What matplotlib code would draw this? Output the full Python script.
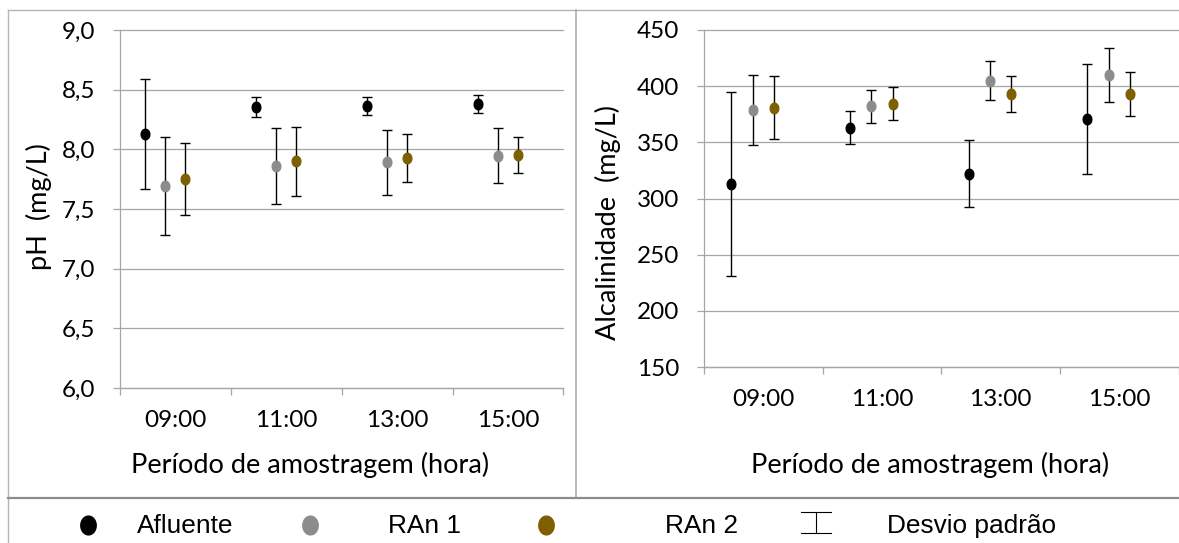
import numpy as np
import matplotlib
matplotlib.use("Agg")
import matplotlib.pyplot as plt
from matplotlib.lines import Line2D
from matplotlib.path import Path
from matplotlib.ticker import FixedLocator, NullFormatter, FixedFormatter

# ---------------- data ----------------
categories = ["09:00", "11:00", "13:00", "15:00"]
series_names = ["Afluente", "RAn 1", "RAn 2"]

ph_afluente = [8.13, 8.355, 8.365, 8.38]
ph_afluente_sd = [0.46, 0.08, 0.077, 0.075]
ph_ran1 = [7.69, 7.86, 7.89, 7.945]
ph_ran1_sd = [0.41, 0.32, 0.27, 0.23]
ph_ran2 = [7.75, 7.90, 7.93, 7.955]
ph_ran2_sd = [0.30, 0.29, 0.20, 0.15]

alk_afluente = [313, 363, 322, 371]
alk_afluente_sd = [82, 14.6, 30, 49]
alk_ran1 = [379, 382, 405, 410]
alk_ran1_sd = [31, 14.5, 17, 24]
alk_ran2 = [381, 384.5, 393, 393]
alk_ran2_sd = [28, 15, 16, 19.6]

ph_yticks = [6.0, 6.5, 7.0, 7.5, 8.0, 8.5, 9.0]
alk_yticks = [150, 200, 250, 300, 350, 400, 450]

# ---------------- style ----------------
colors = ["#000000", "#8c8c8c", "#7f6000"]
offsets = [-0.27, -0.09, 0.09]
grid_c = "#a6a6a6"
border_c = "#b4b4b4"
font_main = "Lato"
font_leg = "Liberation Sans"

W, H = 1179, 543
fig = plt.figure(figsize=(W / 100, H / 100), dpi=100)


def fx(px):
    return px / W


def fy(py):
    return 1 - py / H


ax1 = fig.add_axes([fx(120), fy(388), (563.4 - 120) / W, (388 - 30) / H])
ax2 = fig.add_axes([fx(704), fy(367), (1178.7 - 704) / W, (367 - 30) / H])

t = np.linspace(0, 2 * np.pi, 64)
ell = Path(np.column_stack([0.82 * np.cos(t), np.sin(t)]), closed=True)


def draw(ax, means, sds, ylim, yticks, fmt):
    n = len(categories)
    centers = np.arange(n) + 0.5
    for m, s, c, off in zip(means, sds, colors, offsets):
        x = centers + off
        ax.errorbar(x, m, yerr=s, fmt="none", ecolor="black", elinewidth=1.0,
                    capsize=3.7, capthick=1.0, zorder=3)
        ax.plot(x, m, linestyle="none", marker=ell, markersize=7.6,
                color=c, mec=c, zorder=4)
    ax.set_xlim(0, n)
    ax.set_ylim(*ylim)
    ax.set_yticks(yticks)
    ax.set_yticklabels([fmt(v) for v in yticks])
    ax.yaxis.grid(True, color=grid_c, lw=0.9)
    ax.set_axisbelow(True)
    for sp in ["top", "right"]:
        ax.spines[sp].set_visible(False)
    for sp in ["left", "bottom"]:
        ax.spines[sp].set_color(grid_c)
        ax.spines[sp].set_linewidth(0.9)
    ax.xaxis.set_major_locator(FixedLocator(np.arange(n + 1)))
    ax.xaxis.set_major_formatter(NullFormatter())
    ax.xaxis.set_minor_locator(FixedLocator(centers))
    ax.xaxis.set_minor_formatter(FixedFormatter(categories))
    ax.tick_params(axis="x", which="major", length=5, width=0.9, color=grid_c)
    ax.tick_params(axis="x", which="minor", length=0, pad=16,
                   labelsize=17.5)
    ax.tick_params(axis="y", length=5, width=0.9, color=grid_c, pad=13,
                   labelsize=17.5)
    for lab in ax.get_xticklabels(which="both") + ax.get_yticklabels():
        lab.set_fontfamily(font_main)
    for gl in ax.get_ygridlines():
        gl.set_clip_on(False)


draw(ax1, [ph_afluente, ph_ran1, ph_ran2], [ph_afluente_sd, ph_ran1_sd, ph_ran2_sd],
     (6, 9), ph_yticks, lambda v: f"{v:.1f}".replace(".", ","))
draw(ax2, [alk_afluente, alk_ran1, alk_ran2], [alk_afluente_sd, alk_ran1_sd, alk_ran2_sd],
     (150, 450), alk_yticks, lambda v: f"{v:d}")

# axis titles
fig.text(fx(39), fy(207), "pH  (mg/L)", rotation=90, ha="center", va="center",
         fontsize=19.5, fontfamily=font_main)
fig.text(fx(608), fy(222), "Alcalinidade  (mg/L)", rotation=90, ha="center",
         va="center", fontsize=19.5, fontfamily=font_main)
fig.text(fx(310), fy(465), "Período de amostragem (hora)", ha="center",
         va="center", fontsize=19.5, fontfamily=font_main)
fig.text(fx(930), fy(465), "Período de amostragem (hora)", ha="center",
         va="center", fontsize=19.5, fontfamily=font_main)

# chart frame
def fline(xs, ys, **kw):
    fig.add_artist(Line2D([fx(v) for v in xs], [fy(v) for v in ys],
                          transform=fig.transFigure, **kw))


fline([8, 1179], [10, 10], color=border_c, lw=1.0)
fline([8, 8], [10, 543], color=border_c, lw=1.0)
fline([576, 576], [10, 498], color=border_c, lw=1.3)
fline([8, 1179], [498, 498], color="#8c8c8c", lw=1.6)

# legend
leg_y = 525
leg_items = [(88, 137, colors[0], series_names[0]),
             (310, 388, colors[1], series_names[1]),
             (546, 665, colors[2], series_names[2])]
for mx, tx, c, name in leg_items:
    fig.add_artist(Line2D([fx(mx)], [fy(leg_y)], transform=fig.transFigure,
                          linestyle="none", marker=ell, markersize=13.5,
                          color=c, mec=c))
    fig.text(fx(tx), fy(leg_y + 1), name, ha="left", va="center",
             fontsize=18.9, fontfamily=font_leg)
fline([816, 816], [512, 533], color="black", lw=0.8)
fline([801, 831], [512, 512], color="black", lw=0.8)
fline([801, 831], [533, 533], color="black", lw=0.8)
fig.text(fx(887), fy(leg_y + 1), "Desvio padrão", ha="left", va="center",
         fontsize=18.9, fontfamily=font_leg)

fig.savefig("out.png", dpi=100)
